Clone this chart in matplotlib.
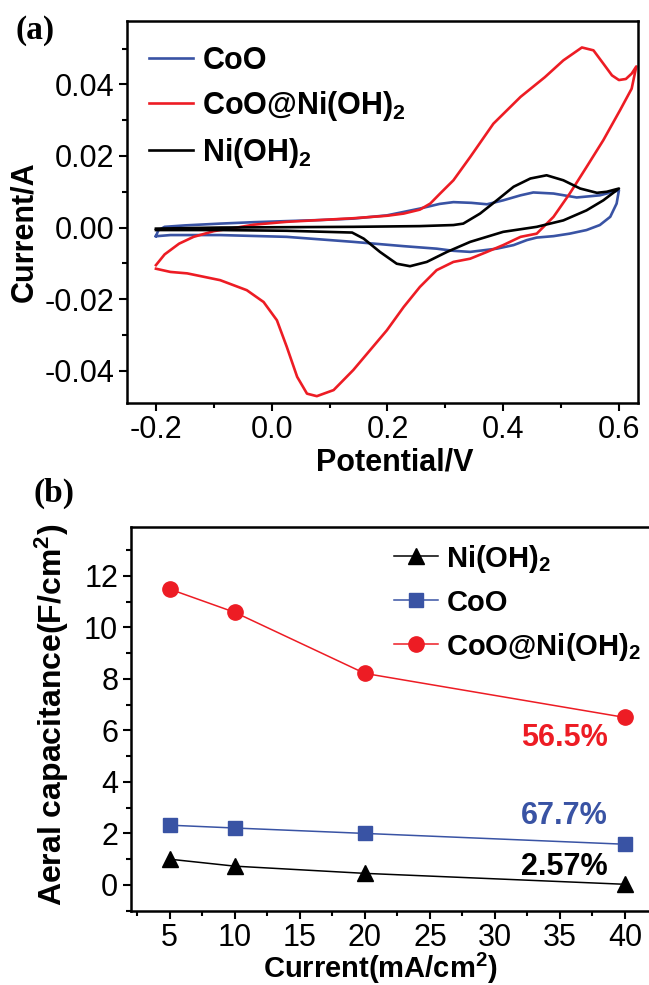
import numpy as np
import matplotlib
matplotlib.use("Agg")
import matplotlib.pyplot as plt
from matplotlib.ticker import MultipleLocator, FormatStrFormatter

plt.rcParams['font.family'] = ['Liberation Sans', 'DejaVu Sans']
plt.rcParams['mathtext.fontset'] = 'custom'
plt.rcParams['mathtext.rm'] = 'Liberation Sans:bold'
plt.rcParams['mathtext.bf'] = 'Liberation Sans:bold'
plt.rcParams['mathtext.default'] = 'bf'
plt.rcParams['axes.unicode_minus'] = False

coo_v = [-0.200, -0.196, -0.185, -0.150, -0.089, -0.031, 0.026, 0.084, 0.141, 0.199, 0.256,
         0.290, 0.314, 0.345, 0.372, 0.400, 0.430, 0.452, 0.487, 0.527, 0.567, 0.600,
         0.596, 0.585, 0.567, 0.544, 0.515, 0.487, 0.458, 0.441, 0.418, 0.389, 0.343,
         0.314, 0.285, 0.228, 0.141, 0.026, -0.089, -0.175, -0.198, -0.200]
coo_i = [-0.0024, -0.0008, 0.0002, 0.0006, 0.0011, 0.0015, 0.0018, 0.0021, 0.0025, 0.0034, 0.0053,
         0.0066, 0.0071, 0.0069, 0.0065, 0.0076, 0.0090, 0.0098, 0.0095, 0.0084, 0.0090, 0.0104,
         0.0067, 0.0030, 0.0007, -0.0007, -0.0017, -0.0024, -0.0028, -0.0035, -0.0049, -0.0059, -0.0068,
         -0.0065, -0.0059, -0.0052, -0.0040, -0.0026, -0.0021, -0.0021, -0.0024, -0.0024]

comp_v = [-0.200, -0.185, -0.160, -0.135, -0.100, -0.060, -0.031, 0.026, 0.084, 0.141, 0.200,
          0.228, 0.256, 0.274, 0.291, 0.314, 0.343, 0.383, 0.430, 0.472, 0.504, 0.536,
          0.556, 0.573, 0.588, 0.600, 0.612, 0.622, 0.630,
          0.622, 0.602, 0.573, 0.544, 0.515, 0.487, 0.458, 0.430, 0.400, 0.372, 0.343,
          0.314, 0.285, 0.256, 0.228, 0.199, 0.141, 0.107, 0.078, 0.061, 0.044, 0.026,
          0.009, -0.014, -0.043, -0.089, -0.146, -0.175, -0.200]
comp_i = [-0.0105, -0.0075, -0.0045, -0.0026, -0.0010, 0.0000, 0.0008, 0.0016, 0.0021, 0.0026, 0.0033,
          0.0039, 0.0050, 0.0067, 0.0095, 0.0132, 0.0197, 0.0290, 0.0365, 0.0420, 0.0467, 0.0503,
          0.0495, 0.0458, 0.0425, 0.0412, 0.0415, 0.0430, 0.0450,
          0.0388, 0.0328, 0.0244, 0.0169, 0.0095, 0.0030, -0.0017, -0.0026, -0.0049, -0.0068, -0.0087,
          -0.0096, -0.0119, -0.0166, -0.0222, -0.0287, -0.0398, -0.0454, -0.0471, -0.0464, -0.0417, -0.0333,
          -0.0259, -0.0208, -0.0175, -0.0147, -0.0128, -0.0124, -0.0115]

nioh_v = [-0.200, -0.089, 0.026, 0.141, 0.256, 0.314, 0.331, 0.360, 0.389, 0.418, 0.447,
          0.475, 0.504, 0.533, 0.562, 0.579, 0.600,
          0.573, 0.544, 0.504, 0.458, 0.400, 0.343, 0.303, 0.268, 0.239, 0.216, 0.187,
          0.159, 0.139, 0.026, -0.089, -0.200]
nioh_i = [-0.0003, 0.0000, 0.0001, 0.0002, 0.0004, 0.0007, 0.0011, 0.0039, 0.0076, 0.0114, 0.0137,
          0.0146, 0.0132, 0.0109, 0.0097, 0.0100, 0.0109,
          0.0076, 0.0048, 0.0020, 0.0002, -0.0012, -0.0040, -0.0068, -0.0096, -0.0108, -0.0101, -0.0068,
          -0.0031, -0.0014, -0.0009, -0.0007, -0.0007]

# (b) areal capacitance vs current density
current = [5, 10, 20, 40]
cap_nioh = [1.00, 0.73, 0.45, 0.026]
cap_coo = [2.32, 2.21, 2.00, 1.58]
cap_comp = [11.48, 10.58, 8.21, 6.50]
retention = ['2.57%', '67.7%', '56.5%']

RED = '#ed1c24'
BLUE = '#3953a4'
BLACK = '#000000'

fig = plt.figure(figsize=(6.49, 9.85), dpi=100)

def style_axes(ax):
    for s in ax.spines.values():
        s.set_linewidth(1.8)
    ax.tick_params(which='major', direction='out', length=5.5, width=1.5, labelsize=22)
    ax.tick_params(which='minor', direction='out', length=3.5, width=1.5)
    ax.tick_params(top=False, right=False)

# ---- panel (a)
ax1 = fig.add_axes([0.1957, 0.5909, 0.7874, 0.3878])
ax1.plot(coo_v, coo_i, color=BLUE, lw=1.9, label='CoO')
ax1.plot(comp_v, comp_i, color=RED, lw=1.9, label='CoO@Ni(OH)$_2$')
ax1.plot(nioh_v, nioh_i, color=BLACK, lw=1.9, label='Ni(OH)$_2$')
ax1.set_xlim(-0.25, 0.633)
ax1.set_ylim(-0.049, 0.0577)
ax1.xaxis.set_major_locator(MultipleLocator(0.2))
ax1.xaxis.set_minor_locator(MultipleLocator(0.1))
ax1.yaxis.set_major_locator(MultipleLocator(0.02))
ax1.yaxis.set_minor_locator(MultipleLocator(0.01))
ax1.xaxis.set_major_formatter(FormatStrFormatter('%.1f'))
ax1.yaxis.set_major_formatter(FormatStrFormatter('%.2f'))
style_axes(ax1)
ax1.set_xlabel('Potential/V', fontsize=22, fontweight='bold', va='center')
ax1.set_ylabel('Current/A', fontsize=22, fontweight='bold', va='center')
ax1.xaxis.set_label_coords(0.5245, -0.157)
ax1.yaxis.set_label_coords(-0.2016, 0.4476)
ax1.legend(loc='upper left', bbox_to_anchor=(0.043, 0.934), frameon=False,
           prop={'weight': 'bold', 'size': 22}, handlelength=1.45,
           handletextpad=0.3, labelspacing=0.42, borderpad=0, borderaxespad=0)

# ---- panel (b)
ax2 = fig.add_axes([0.2014, 0.0754, 0.8017, 0.3898])
ax2.plot(current, cap_nioh, color=BLACK, lw=1.1, marker='^', ms=11, label='Ni(OH)$_2$')
ax2.plot(current, cap_coo, color=BLUE, lw=1.1, marker='s', ms=9.5, label='CoO')
ax2.plot(current, cap_comp, color=RED, lw=1.1, marker='o', ms=11, label='CoO@Ni(OH)$_2$')
ax2.set_xlim(2, 42)
ax2.set_ylim(-1.0, 13.9)
ax2.xaxis.set_major_locator(MultipleLocator(5))
ax2.xaxis.set_minor_locator(MultipleLocator(2.5))
ax2.yaxis.set_major_locator(MultipleLocator(2))
ax2.yaxis.set_minor_locator(MultipleLocator(1))
style_axes(ax2)
ax2.set_xlabel('Current(mA/cm$^2$)', fontsize=21, fontweight='bold', va='center')
ax2.set_ylabel('Aeral capacitance(F/cm$^2$)', fontsize=23, fontweight='bold', va='center')
ax2.xaxis.set_label_coords(0.479, -0.151)
ax2.yaxis.set_label_coords(-0.151, 0.5096)
ax2.legend(loc='upper left', bbox_to_anchor=(0.506, 0.959), frameon=False,
           prop={'weight': 'bold', 'size': 21}, handlelength=1.5,
           handletextpad=0.3, labelspacing=0.48, borderpad=0, borderaxespad=0)

ax2.text(38.7, 0.68, retention[0], color=BLACK, fontsize=22, fontweight='bold', ha='right', va='center')
ax2.text(38.7, 2.67, retention[1], color=BLUE, fontsize=22, fontweight='bold', ha='right', va='center')
ax2.text(38.7, 5.7, retention[2], color=RED, fontsize=22, fontweight='bold', ha='right', va='center')

fig.text(35 / 649, 1 - 30 / 985, '(a)', family='Liberation Serif', fontweight='bold',
         fontsize=24, ha='center', va='center')
fig.text(54 / 649, 1 - 493 / 985, '(b)', family='Liberation Serif', fontweight='bold',
         fontsize=24, ha='center', va='center')

fig.savefig('out.png', dpi=100)
